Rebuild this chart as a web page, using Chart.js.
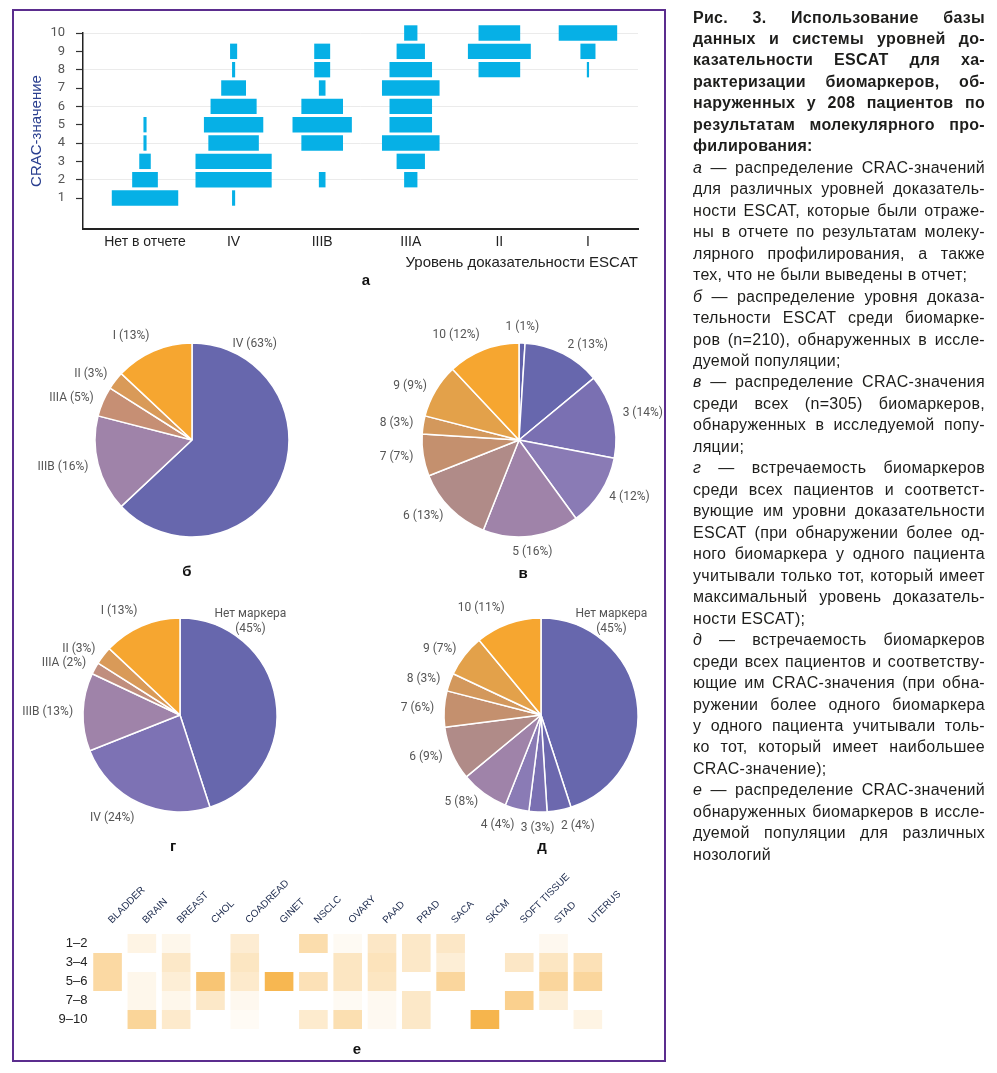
<!DOCTYPE html>
<html lang="ru">
<head>
<meta charset="utf-8">
<title>Рис. 3</title>
<script src="https://cdn.jsdelivr.net/npm/chart.js@4.4.1/dist/chart.umd.min.js"></script>
<style>
  html, body { margin: 0; padding: 0; background: #fff; }
  body { width: 997px; height: 1073px; position: relative; overflow: hidden; font-family: 'Liberation Sans', Arial, sans-serif; }
  .frame { position: absolute; left: 12px; top: 9px; width: 654px; height: 1053px; box-sizing: border-box; border: 2.5px solid #5b2d8e; }
  canvas { position: absolute; }
  .tag { position: absolute; font: bold 15px 'Liberation Sans', Arial, sans-serif; color: #111; transform: translate(-50%, -50%); }
  .caption { position: absolute; left: 693px; top: 6.5px; width: 292px; font-size: 16px; line-height: 21.47px; color: #1d1d1b; letter-spacing: 0.3px; z-index: 2; }
  .caption div { text-align: justify; text-align-last: justify; white-space: nowrap; }
  .caption div.l { text-align-last: left; }
  .caption b div { font-weight: bold; }
</style>
</head>
<body>
<div class="frame"></div>

<canvas id="chartA" width="640" height="275" style="left:20px;top:10px"></canvas>
<div class="tag" style="left:366px;top:279px">а</div>

<canvas id="pieB" width="340" height="260" style="left:22px;top:310px"></canvas>
<canvas id="pieV" width="340" height="260" style="left:349px;top:310px"></canvas>
<div class="tag" style="left:187px;top:570px">б</div>
<div class="tag" style="left:523px;top:572px">в</div>

<canvas id="pieG" width="340" height="260" style="left:10px;top:585px"></canvas>
<canvas id="pieD" width="340" height="260" style="left:371px;top:585px"></canvas>
<div class="tag" style="left:173px;top:845px">г</div>
<div class="tag" style="left:542px;top:845px">д</div>

<canvas id="heatE" width="600" height="180" style="left:20px;top:860px"></canvas>
<div class="tag" style="left:357px;top:1048px">е</div>

<div class="caption">
  <b>
  <div>Рис. 3. Использование базы</div>
  <div>данных и системы уровней до-</div>
  <div>казательности ESCAT для ха-</div>
  <div>рактеризации биомаркеров, об-</div>
  <div>наруженных у 208 пациентов по</div>
  <div>результатам молекулярного про-</div>
  <div class="l">филирования:</div>
  </b>
  <div><i>а</i> — распределение CRAC-значений</div>
  <div>для различных уровней доказатель-</div>
  <div>ности ESCAT, которые были отраже-</div>
  <div>ны в отчете по результатам молеку-</div>
  <div>лярного профилирования, а также</div>
  <div class="l">тех, что не были выведены в отчет;</div>
  <div><i>б</i> — распределение уровня доказа-</div>
  <div>тельности ESCAT среди биомарке-</div>
  <div>ров (n=210), обнаруженных в иссле-</div>
  <div class="l">дуемой популяции;</div>
  <div><i>в</i> — распределение CRAC-значения</div>
  <div>среди всех (n=305) биомаркеров,</div>
  <div>обнаруженных в исследуемой попу-</div>
  <div class="l">ляции;</div>
  <div><i>г</i> — встречаемость биомаркеров</div>
  <div>среди всех пациентов и соответст-</div>
  <div>вующие им уровни доказательности</div>
  <div>ESCAT (при обнаружении более од-</div>
  <div>ного биомаркера у одного пациента</div>
  <div>учитывали только тот, который имеет</div>
  <div>максимальный уровень доказатель-</div>
  <div class="l">ности ESCAT);</div>
  <div><i>д</i> — встречаемость биомаркеров</div>
  <div>среди всех пациентов и соответству-</div>
  <div>ющие им CRAC-значения (при обна-</div>
  <div>ружении более одного биомаркера</div>
  <div>у одного пациента учитывали толь-</div>
  <div>ко тот, который имеет наибольшее</div>
  <div class="l">CRAC-значение);</div>
  <div><i>е</i> — распределение CRAC-значений</div>
  <div>обнаруженных биомаркеров в иссле-</div>
  <div>дуемой популяции для различных</div>
  <div class="l">нозологий</div>
</div>

<script>
// --- a: CRAC distribution per ESCAT level (bar width, % of category step, for CRAC 1..10)
const escatLevels = ['Нет в отчете', 'IV', 'IIIB', 'IIIA', 'II', 'I'];
const cracValues = [1, 2, 3, 4, 5, 6, 7, 8, 9, 10];
const widthNoReport = [75, 29, 13, 3.5, 3.5, 0, 0, 0, 0, 0];
const widthIV = [3.5, 86, 86, 57, 67, 52, 28, 3.5, 8, 0];
const widthIIIB = [0, 7.5, 0, 47, 67, 47, 7.5, 18, 18, 0];
const widthIIIA = [0, 15, 32, 65, 48, 48, 65, 48, 32, 15];
const widthII = [0, 0, 0, 0, 0, 0, 0, 47, 71, 47];
const widthI = [0, 0, 0, 0, 0, 0, 0, 2.5, 17, 66];

// --- б, в, г, д: pie shares, %
const escatLabels = ['IV', 'IIIB', 'IIIA', 'II', 'I'];
const escatShares = [63, 16, 5, 3, 13];
const cracLabels = ['1', '2', '3', '4', '5', '6', '7', '8', '9', '10'];
const cracShares = [1, 13, 14, 12, 16, 13, 7, 3, 9, 12];
const patientEscatLabels = ['Нет маркера', 'IV', 'IIIB', 'IIIA', 'II', 'I'];
const patientEscatShares = [45, 24, 13, 2, 3, 13];
const patientCracLabels = ['Нет маркера', '2', '3', '4', '5', '6', '7', '8', '9', '10'];
const patientCracShares = [45, 4, 3, 4, 8, 9, 6, 3, 7, 11];

// --- е: relative frequency (0..1) per CRAC group and tumour type
const tumourTypes = ['BLADDER', 'BRAIN', 'BREAST', 'CHOL', 'COADREAD', 'GINET', 'NSCLC', 'OVARY',
  'PAAD', 'PRAD', 'SACA', 'SKCM', 'SOFT TISSUE', 'STAD', 'UTERUS'];
const cracGroups = ['1–2', '3–4', '5–6', '7–8', '9–10'];
const heat12 = [0, .13, .1, 0, .22, 0, .4, .06, .28, .27, .28, 0, 0, .08, 0];
const heat34 = [.45, 0, .27, 0, .3, 0, 0, .3, .33, .27, .2, 0, .28, .3, .35];
const heat56 = [.45, .1, .2, .68, .25, .85, .35, .3, .3, 0, .48, 0, 0, .48, .48];
const heat78 = [0, .1, .1, .27, .08, 0, 0, .06, .07, .27, 0, 0, .55, .2, 0];
const heat910 = [0, .5, .25, 0, .05, 0, .24, .38, .07, .27, 0, .87, 0, 0, .13];

const pieColors = {
  escat: ['#6767ad', '#9f83a9', '#c68f74', '#d99a58', '#f6a630'],
  crac: ['#6262aa', '#6767ad', '#7a70b2', '#8a7bb5', '#9f83a9', '#b08b88', '#c4906e', '#d3985c', '#e3a14a', '#f6a630'],
  patientEscat: ['#6767ad', '#7d72b4', '#9f83a9', '#c08e7e', '#d99a58', '#f6a630'],
  patientCrac: ['#6767ad', '#6c68ae', '#7a70b2', '#8a7bb5', '#9f83a9', '#b08b88', '#c4906e', '#d3985c', '#e3a14a', '#f6a630']
};

// ---------- chart a
const widthRows = [widthNoReport, widthIV, widthIIIB, widthIIIA, widthII, widthI];
let barPoints = [];
widthRows.forEach((row, i) => {
  row.forEach((w, j) => {
    if (w > 0) barPoints.push({ y: cracValues[j], x: [i - w / 200, i + w / 200] });
  });
});

new Chart(document.getElementById('chartA'), {
  type: 'bar',
  data: { datasets: [{ data: barPoints, backgroundColor: '#06b0e6', borderWidth: 0, clip: false }] },
  options: {
    indexAxis: 'y',
    responsive: false,
    animation: false,
    layout: { padding: { top: 23, right: 22, left: 0, bottom: 0 } },
    plugins: { legend: { display: false }, tooltip: { enabled: false } },
    datasets: { bar: { categoryPercentage: 1, barPercentage: 0.84 } },
    scales: {
      y: {
        type: 'linear', min: -0.69, max: 10, offset: false,
        afterBuildTicks: (s) => { s.ticks = cracValues.map(v => ({ value: v })); },
        afterFit: (s) => { s.width = 63; },
        ticks: { color: '#555', font: { family: 'Roboto', size: 13 }, padding: 11 },
        grid: {
          offset: false,
          color: (c) => (c.tick && c.tick.value % 2 === 0) ? '#ebebeb' : 'rgba(0,0,0,0)',
          tickColor: '#333', tickLength: 7, tickWidth: 1.2
        },
        border: { color: '#222', width: 1.5 },
        title: { display: true, text: 'CRAC-значение', color: '#2a3f8f',
          font: { family: 'Liberation Sans', size: 15 }, padding: { top: 8, bottom: 0 } }
      },
      x: {
        type: 'linear', min: -0.7, max: 5.565,
        afterBuildTicks: (s) => { s.ticks = escatLevels.map((l, i) => ({ value: i })); },
        afterFit: (s) => { s.height = 56; },
        ticks: { callback: (v) => escatLevels[v], color: '#222', autoSkip: false, maxRotation: 0,
          font: { family: 'Liberation Sans', size: 14 }, padding: 5 },
        grid: { display: false, drawTicks: false },
        border: { color: '#222', width: 2 },
        title: { display: true, text: 'Уровень доказательности ESCAT', align: 'end', color: '#222',
          font: { family: 'Liberation Sans', size: 15 }, padding: { top: 0, bottom: 13 } }
      }
    }
  }
});

// ---------- pies
const sliceLabels = {
  id: 'sliceLabels',
  afterDatasetsDraw(chart) {
    const ctx = chart.ctx;
    const meta = chart.getDatasetMeta(0);
    const data = chart.data.datasets[0].data;
    const total = data.reduce((a, b) => a + b, 0);
    ctx.save();
    ctx.font = '12px Roboto';
    ctx.fillStyle = '#555';
    meta.data.forEach((arc, i) => {
      const p = arc.getProps(['x', 'y', 'startAngle', 'endAngle', 'outerRadius'], true);
      const label = chart.data.labels[i];
      const big = data[i] / total > 0.4;
      if (big) {
        // large slice: label sits near the top-right, just past the slice start
        const twoLines = label.length > 4;
        const a = p.startAngle + (twoLines ? 37 : 33) * Math.PI / 180;
        const d = p.outerRadius + (twoLines ? 20 : 18);
        const px = p.x + Math.cos(a) * d, py = p.y + Math.sin(a) * d;
        ctx.textAlign = 'center';
        ctx.textBaseline = 'middle';
        if (twoLines) {
          ctx.fillText(label, px, py - 7.5);
          ctx.fillText('(' + data[i] + '%)', px, py + 7.5);
        } else {
          ctx.fillText(label + ' (' + data[i] + '%)', px, py);
        }
        return;
      }
      const a = (p.startAngle + p.endAngle) / 2;
      const d = p.outerRadius + 10;
      const c = Math.cos(a), s = Math.sin(a);
      const px = p.x + c * d, py = p.y + s * d;
      let align = c > 0 ? 'left' : 'right';
      if (s < -0.85 && Math.abs(c) < 0.3) align = 'center';
      if (s > 0.85 && Math.abs(c) < 0.15) align = 'center';
      ctx.textAlign = align;
      ctx.textBaseline = s < -0.9 ? 'bottom' : (s > 0.9 ? 'top' : 'middle');
      ctx.fillText(label + ' (' + data[i] + '%)', px, py);
    });
    ctx.restore();
  }
};

function makePie(id, labels, shares, colors) {
  new Chart(document.getElementById(id), {
    type: 'pie',
    data: { labels: labels, datasets: [{ data: shares, backgroundColor: colors, borderColor: '#fff', borderWidth: 1.5, radius: 97 }] },
    options: {
      responsive: false,
      animation: false,
      plugins: { legend: { display: false }, tooltip: { enabled: false } }
    },
    plugins: [sliceLabels]
  });
}

makePie('pieB', escatLabels, escatShares, pieColors.escat);
makePie('pieV', cracLabels, cracShares, pieColors.crac);
makePie('pieG', patientEscatLabels, patientEscatShares, pieColors.patientEscat);
makePie('pieD', patientCracLabels, patientCracShares, pieColors.patientCrac);

// ---------- heatmap е
const heatRows = [heat12, heat34, heat56, heat78, heat910];
function heatColor(v) {
  if (!v) return 'rgba(0,0,0,0)';
  const r = Math.round(255 - 10 * v), g = Math.round(255 - 85 * v), b = Math.round(255 - 205 * v);
  return `rgb(${r},${g},${b})`;
}

new Chart(document.getElementById('heatE'), {
  type: 'bar',
  data: {
    labels: tumourTypes,
    datasets: heatRows.map((row, r) => ({
      label: cracGroups[r],
      data: row.map(() => 1),
      backgroundColor: row.map(heatColor),
      borderWidth: 0
    }))
  },
  options: {
    responsive: false,
    animation: false,
    layout: { padding: { right: 15, bottom: 11, left: 0, top: 0 } },
    datasets: { bar: { categoryPercentage: 1, barPercentage: 0.834 } },
    plugins: { legend: { display: false }, tooltip: { enabled: false } },
    scales: {
      x: {
        position: 'top', stacked: true,
        grid: { display: false, drawTicks: false }, border: { display: false },
        afterFit: (s) => { s.height = 74; s.paddingLeft = 0; s.paddingRight = 0; },
        ticks: { minRotation: 45, maxRotation: 45, autoSkip: false, padding: 8, labelOffset: 11, color: '#1c2a4d',
          font: { family: 'Liberation Sans', size: 10 } }
      },
      y: {
        stacked: true, min: 0, max: 5, reverse: true,
        grid: { display: false, drawTicks: false }, border: { display: false },
        afterBuildTicks: (s) => { s.ticks = cracGroups.map((g, i) => ({ value: i + 0.5 })); },
        afterFit: (s) => { s.width = 70.4; },
        ticks: { callback: (v) => cracGroups[Math.floor(v)], padding: 3, color: '#222',
          font: { family: 'Liberation Sans', size: 13 } }
      }
    }
  }
});
</script>
</body>
</html>
